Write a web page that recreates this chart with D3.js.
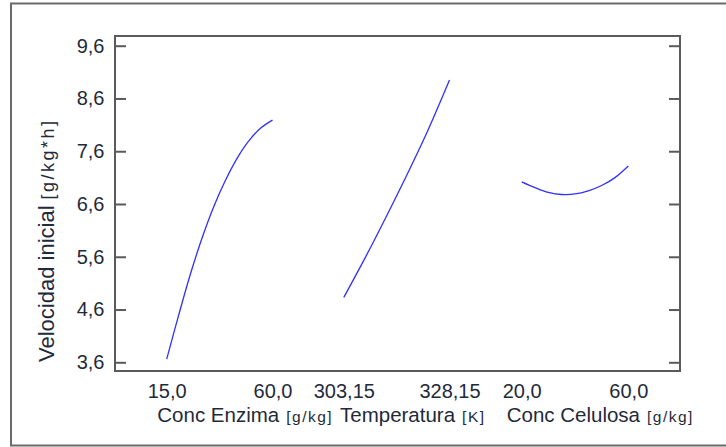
<!DOCTYPE html>
<html>
<head>
<meta charset="utf-8">
<script src="https://cdn.jsdelivr.net/npm/d3@7"></script>
<style>
  body { margin: 0; background: #fff; }
  svg text { font-family: "Liberation Sans", Arial, sans-serif; fill: #1f2a3a; }
</style>
</head>
<body>
<div class="main"></div>
<script>
////Data
const yTicks = [3.6, 4.6, 5.6, 6.6, 7.6, 8.6, 9.6];

const enzimaX = [15, 20, 25, 30, 35, 40, 45, 50, 55, 60];
const enzimaY = [3.66, 4.48, 5.26, 5.95, 6.55, 7.05, 7.47, 7.80, 8.04, 8.19];

const tempX = [303.15, 308, 313, 318, 323, 328.15];
const tempY = [4.83, 5.55, 6.33, 7.14, 7.99, 8.95];

const celX = [20, 25, 30, 35, 40, 45, 50, 55, 60];
const celY = [7.02, 6.91, 6.82, 6.78, 6.79, 6.85, 6.95, 7.10, 7.32];

const factorNames = ['Conc Enzima', 'Temperatura', 'Conc Celulosa'];
const factorUnits = ['[g/kg]', '[K]', '[g/kg]'];
const factorTicks = [[15, 60], [303.15, 328.15], [20, 60]];
const factorDigits = [1, 2, 1];

////Global Variables
const width = 726;
const height = 447;
const frame = {left: 115, top: 36, right: 680, bottom: 371};
const tickLen = 11;
// pixel span of each factor's low..high value on the shared x axis
const panelRanges = [[166.7, 272.5], [343.8, 449.5], [521.7, 628.3]];
const titleStarts = [157.3, 340, 506.7];

const locale = d3.formatLocale({decimal: ',', thousands: '.', grouping: [3], currency: ['', '']});

const svg = d3.select('.main').append('svg')
  .attr('width', width)
  .attr('height', height);

////Outer border
svg.append('rect')
  .attr('x', 11).attr('y', 3.5)
  .attr('width', 730).attr('height', 442)
  .attr('fill', 'none')
  .attr('stroke', '#6a6a6a')
  .attr('stroke-width', 2);

////Scales
const yScale = d3.scaleLinear().domain([3.6, 9.6]).range([362.3, 45.7]);

const series = [
  enzimaX.map((x, i) => [x, enzimaY[i]]),
  tempX.map((x, i) => [x, tempY[i]]),
  celX.map((x, i) => [x, celY[i]])
];

const xScales = factorTicks.map((t, i) => d3.scaleLinear().domain(t).range(panelRanges[i]));

////Plot frame
svg.append('rect')
  .attr('x', frame.left).attr('y', frame.top)
  .attr('width', frame.right - frame.left).attr('height', frame.bottom - frame.top)
  .attr('fill', 'none')
  .attr('stroke', '#5a5a5a')
  .attr('stroke-width', 2);

////Y axes (left with labels, right ticks only)
const yAxis = d3.axisLeft(yScale)
  .tickValues(yTicks)
  .tickSize(-tickLen)
  .tickPadding(10.5)
  .tickFormat(locale.format('.1f'));

const gy = svg.append('g')
  .attr('id', 'y-axis')
  .attr('transform', `translate(${frame.left}, 0)`)
  .call(yAxis);
gy.select('.domain').remove();
gy.selectAll('line').attr('stroke', '#5a5a5a').attr('stroke-width', 2);
gy.selectAll('text').attr('font-size', 20).attr('fill', '#1f2a3a')
  .attr('font-family', '"Liberation Sans", Arial, sans-serif');

const gy2 = svg.append('g')
  .attr('transform', `translate(${frame.right}, 0)`)
  .call(d3.axisRight(yScale).tickValues(yTicks).tickSize(-tickLen).tickFormat(''));
gy2.select('.domain').remove();
gy2.selectAll('line').attr('stroke', '#5a5a5a').attr('stroke-width', 2);

////X axes, one per factor
xScales.forEach((xs, i) => {
  const g = svg.append('g')
    .attr('transform', `translate(0, ${frame.bottom})`)
    .call(d3.axisBottom(xs)
      .tickValues(factorTicks[i])
      .tickSize(0)
      .tickPadding(13)
      .tickFormat(locale.format(`.${factorDigits[i]}f`)));
  g.select('.domain').remove();
  g.selectAll('text').attr('font-size', 20).attr('fill', '#1f2a3a')
    .attr('font-family', '"Liberation Sans", Arial, sans-serif');

  const title = svg.append('text')
    .attr('x', titleStarts[i])
    .attr('y', 421.5)
    .attr('font-size', 20.5);
  title.append('tspan').text(factorNames[i]);
  title.append('tspan')
    .attr('dx', 7)
    .attr('font-size', 15.5)
    .attr('letter-spacing', 1.5)
    .text(factorUnits[i]);
});

////Y title
const yTitle = svg.append('text')
  .attr('transform', 'rotate(-90)')
  .attr('x', -362)
  .attr('y', 54)
  .attr('font-size', 22);
yTitle.append('tspan').text('Velocidad inicial');
yTitle.append('tspan').attr('dx', 6).attr('font-size', 18).attr('letter-spacing', 2.5).text('[g/kg*h]');

////Curves
const line = d3.line().curve(d3.curveCatmullRom);
series.forEach((s, i) => {
  svg.append('path')
    .attr('d', line.x(d => xScales[i](d[0])).y(d => yScale(d[1]))(s))
    .attr('fill', 'none')
    .attr('stroke', '#3030ff')
    .attr('stroke-width', 1.3);
});
</script>
</body>
</html>
